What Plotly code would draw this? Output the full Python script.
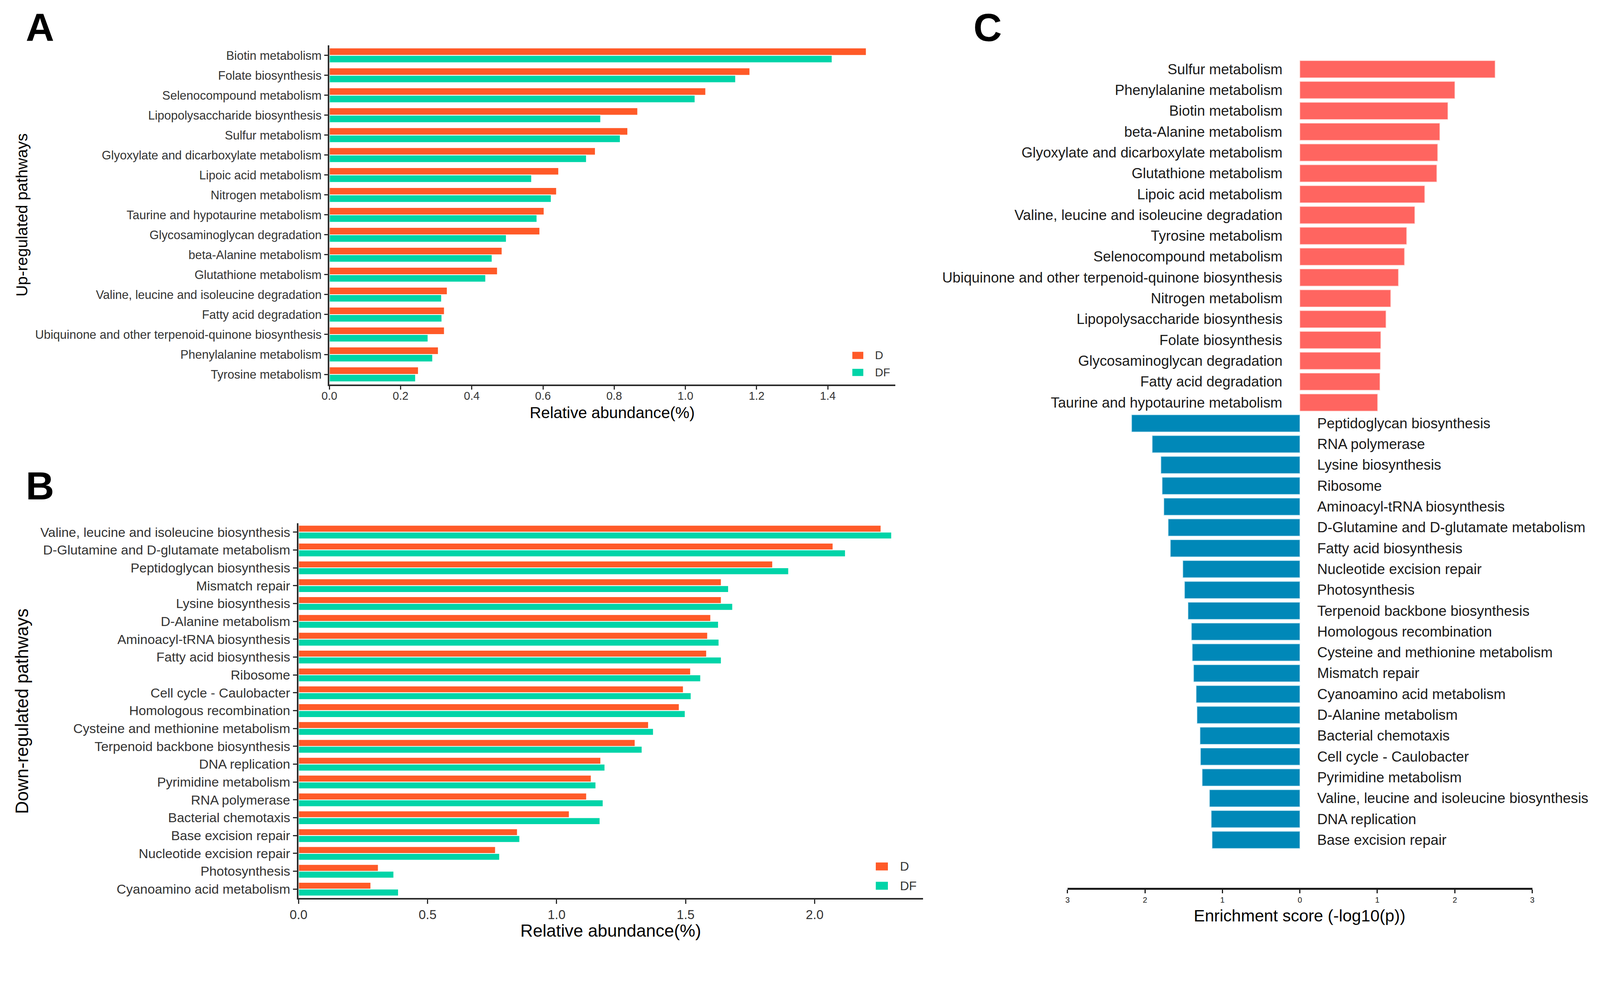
import plotly.graph_objects as go

# The photographed page is magnified by about K relative to CSS pixels and the
# page body has an 8 px margin; layout is expressed in target-picture pixels
# and converted below.
K = 1.033
W_REF, H_REF = 4233, 2513
WF = round(W_REF / K - 8)
HF = round(H_REF / K - 8)
FONT = "Liberation Sans, Arial, sans-serif"

# ---------------- Panel A data ----------------
up_pathways = ["Biotin metabolism", "Folate biosynthesis", "Selenocompound metabolism",
               "Lipopolysaccharide biosynthesis", "Sulfur metabolism",
               "Glyoxylate and dicarboxylate metabolism", "Lipoic acid metabolism",
               "Nitrogen metabolism", "Taurine and hypotaurine metabolism",
               "Glycosaminoglycan degradation", "beta-Alanine metabolism",
               "Glutathione metabolism", "Valine, leucine and isoleucine degradation",
               "Fatty acid degradation", "Ubiquinone and other terpenoid-quinone biosynthesis",
               "Phenylalanine metabolism", "Tyrosine metabolism"]
up_D = [1.508, 1.181, 1.057, 0.866, 0.838, 0.747, 0.644, 0.638, 0.603, 0.591,
        0.485, 0.472, 0.331, 0.323, 0.323, 0.306, 0.250]
up_DF = [1.412, 1.141, 1.027, 0.762, 0.817, 0.722, 0.568, 0.623, 0.583, 0.497,
         0.457, 0.439, 0.315, 0.316, 0.277, 0.290, 0.242]
a_ticks = [0.0, 0.2, 0.4, 0.6, 0.8, 1.0, 1.2, 1.4]

# ---------------- Panel B data ----------------
down_pathways = ["Valine, leucine and isoleucine biosynthesis", "D-Glutamine and D-glutamate metabolism",
                 "Peptidoglycan biosynthesis", "Mismatch repair", "Lysine biosynthesis",
                 "D-Alanine metabolism", "Aminoacyl-tRNA biosynthesis", "Fatty acid biosynthesis",
                 "Ribosome", "Cell cycle - Caulobacter", "Homologous recombination",
                 "Cysteine and methionine metabolism", "Terpenoid backbone biosynthesis",
                 "DNA replication", "Pyrimidine metabolism", "RNA polymerase",
                 "Bacterial chemotaxis", "Base excision repair", "Nucleotide excision repair",
                 "Photosynthesis", "Cyanoamino acid metabolism"]
down_D = [2.257, 2.071, 1.837, 1.638, 1.638, 1.597, 1.585, 1.581, 1.519, 1.491, 1.475,
          1.356, 1.304, 1.171, 1.134, 1.116, 1.049, 0.848, 0.763, 0.309, 0.280]
down_DF = [2.298, 2.119, 1.899, 1.666, 1.682, 1.627, 1.629, 1.638, 1.558, 1.521, 1.498,
           1.375, 1.331, 1.187, 1.152, 1.180, 1.168, 0.857, 0.779, 0.369, 0.387]
b_ticks = [0.0, 0.5, 1.0, 1.5, 2.0]

# ---------------- Panel C data ----------------
enr_up_names = ["Sulfur metabolism", "Phenylalanine metabolism", "Biotin metabolism",
                "beta-Alanine metabolism", "Glyoxylate and dicarboxylate metabolism",
                "Glutathione metabolism", "Lipoic acid metabolism",
                "Valine, leucine and isoleucine degradation", "Tyrosine metabolism",
                "Selenocompound metabolism", "Ubiquinone and other terpenoid-quinone biosynthesis",
                "Nitrogen metabolism", "Lipopolysaccharide biosynthesis", "Folate biosynthesis",
                "Glycosaminoglycan degradation", "Fatty acid degradation",
                "Taurine and hypotaurine metabolism"]
enr_up_scores = [2.52, 2.00, 1.91, 1.806, 1.778, 1.767, 1.611, 1.483, 1.378, 1.35,
                 1.272, 1.172, 1.111, 1.044, 1.039, 1.033, 1.003]
enr_down_names = ["Peptidoglycan biosynthesis", "RNA polymerase", "Lysine biosynthesis", "Ribosome",
                  "Aminoacyl-tRNA biosynthesis", "D-Glutamine and D-glutamate metabolism",
                  "Fatty acid biosynthesis", "Nucleotide excision repair", "Photosynthesis",
                  "Terpenoid backbone biosynthesis", "Homologous recombination",
                  "Cysteine and methionine metabolism", "Mismatch repair",
                  "Cyanoamino acid metabolism", "D-Alanine metabolism", "Bacterial chemotaxis",
                  "Cell cycle - Caulobacter", "Pyrimidine metabolism",
                  "Valine, leucine and isoleucine biosynthesis", "DNA replication",
                  "Base excision repair"]
enr_down_scores = [2.172, 1.906, 1.794, 1.778, 1.756, 1.70, 1.672, 1.511, 1.489, 1.444, 1.40,
                   1.389, 1.372, 1.339, 1.328, 1.289, 1.283, 1.261, 1.167, 1.144, 1.133]
c_tickvals = [-3, -2, -1, 0, 1, 2, 3]
c_ticktext = ["3", "2", "1", "0", "1", "2", "3"]

COL_D = "#FF5A28"
COL_DF = "#00D4A8"
COL_UP = "#FF6560"
COL_DOWN = "#0088B8"
AX = "#2b2b2b"
TXT = "#333333"


def S(v):
    return v / K


def fx(px):
    return (px / K - 8) / WF


def fy(py):
    return 1 - (py / K - 8) / HF


fig = go.Figure()

# Panel A bars
fig.add_trace(go.Bar(y=up_pathways, x=up_D, orientation="h", name="D",
                     marker=dict(color=COL_D, line=dict(color="white", width=S(2))),
                     width=0.37, offset=-0.37, xaxis="x", yaxis="y", showlegend=False))
fig.add_trace(go.Bar(y=up_pathways, x=up_DF, orientation="h", name="DF",
                     marker=dict(color=COL_DF, line=dict(color="white", width=S(2))),
                     width=0.37, offset=0.0, xaxis="x", yaxis="y", showlegend=False))
# Panel B bars
fig.add_trace(go.Bar(y=down_pathways, x=down_D, orientation="h", name="D",
                     marker=dict(color=COL_D, line=dict(color="white", width=S(2))),
                     width=0.38, offset=-0.38, xaxis="x2", yaxis="y2", showlegend=False))
fig.add_trace(go.Bar(y=down_pathways, x=down_DF, orientation="h", name="DF",
                     marker=dict(color=COL_DF, line=dict(color="white", width=S(2))),
                     width=0.38, offset=0.0, xaxis="x2", yaxis="y2", showlegend=False))
# Panel C bars
fig.add_trace(go.Bar(y=enr_up_names, x=enr_up_scores, orientation="h", name="Up",
                     marker=dict(color=COL_UP, line=dict(color="#ffd0cc", width=S(1.5))),
                     width=0.82, offset=-0.41, xaxis="x3", yaxis="y3", showlegend=False))
fig.add_trace(go.Bar(y=enr_down_names, x=[-v for v in enr_down_scores], orientation="h", name="Down",
                     marker=dict(color=COL_DOWN, line=dict(color="#bfe3f0", width=S(1.5))),
                     width=0.82, offset=-0.41, xaxis="x3", yaxis="y3", showlegend=False))

c_order = enr_up_names + enr_down_names

axis_common = dict(showline=True, linecolor=AX, linewidth=S(4), ticks="outside",
                   tickwidth=S(3), tickcolor=AX, showgrid=False, zeroline=False,
                   automargin=False)

layout = dict(
    width=WF, height=HF, margin=dict(l=0, r=0, t=0, b=0, pad=0), autosize=False,
    paper_bgcolor="white", plot_bgcolor="white",
    font=dict(family=FONT, color=TXT),
    xaxis=dict(domain=[fx(871), fx(2368)], anchor="y", range=[0, 1.59],
               tickvals=a_ticks, ticktext=[f"{v:.1f}" for v in a_ticks], ticklen=S(10),
               ticklabelstandoff=-9,
               tickfont=dict(size=S(30), color=TXT, family=FONT), **axis_common),
    yaxis=dict(domain=[fy(1016), fy(120)], anchor="x", categoryorder="array",
               categoryarray=up_pathways, range=[16.5, -0.5], ticklen=S(10),
               tickfont=dict(size=S(32), color=TXT, family=FONT), **axis_common),
    xaxis2=dict(domain=[fx(789.5), fx(2441)], anchor="y2", range=[0, 2.42],
                tickvals=b_ticks, ticktext=[f"{v:.1f}" for v in b_ticks], ticklen=S(11),
                tickfont=dict(size=S(34), color=TXT, family=FONT), **axis_common),
    yaxis2=dict(domain=[fy(2374), fy(1383)], anchor="x2", categoryorder="array",
                categoryarray=down_pathways, range=[20.5, -0.5], ticklen=S(11),
                tickfont=dict(size=S(35), color=TXT, family=FONT), **axis_common),
    xaxis3=dict(domain=[fx(2823), fx(4052)], anchor="y3", range=[-3, 3],
                tickvals=c_tickvals, ticktext=c_ticktext,
                showline=True, linecolor="#1a1a1a", linewidth=S(5), ticks="outside",
                ticklen=S(9), tickwidth=S(3), tickcolor="#1a1a1a", showgrid=False,
                zeroline=False, automargin=False,
                tickfont=dict(size=S(21), color="#222222", family=FONT)),
    yaxis3=dict(domain=[fy(2347), fy(150)], anchor="x3", categoryorder="array",
                categoryarray=c_order, range=[39.3, -0.6], automargin=False,
                showline=False, showticklabels=False, ticks="", showgrid=False,
                zeroline=False),
)
fig.update_layout(**layout)

ann = []
# Panel letters
for letter, x, y in [("A", 66, 72), ("B", 66, 1284), ("C", 2572, 72)]:
    ann.append(dict(text=f"<b>{letter}</b>", x=fx(x), y=fy(y), xref="paper", yref="paper",
                    xanchor="left", yanchor="middle", showarrow=False,
                    font=dict(size=S(104), color="black", family=FONT)))
# Axis titles
ann.append(dict(text="Relative abundance(%)", x=fx(1619), y=fy(1091), xref="paper", yref="paper",
                xanchor="center", yanchor="middle", showarrow=False,
                font=dict(size=S(42), color="black", family=FONT)))
ann.append(dict(text="Relative abundance(%)", x=fx(1615), y=fy(2460), xref="paper", yref="paper",
                xanchor="center", yanchor="middle", showarrow=False,
                font=dict(size=S(46), color="black", family=FONT)))
ann.append(dict(text="Enrichment score (-log10(p))", x=fx(3437), y=fy(2420), xref="paper",
                yref="paper", xanchor="center", yanchor="middle", showarrow=False,
                font=dict(size=S(44), color="black", family=FONT)))
ann.append(dict(text="Up-regulated pathways", x=fx(58), y=fy(568), xref="paper", yref="paper",
                xanchor="center", yanchor="middle", showarrow=False, textangle=-90,
                font=dict(size=S(42), color="black", family=FONT)))
ann.append(dict(text="Down-regulated pathways", x=fx(59), y=fy(1880), xref="paper", yref="paper",
                xanchor="center", yanchor="middle", showarrow=False, textangle=-90,
                font=dict(size=S(47), color="black", family=FONT)))

# Panel C labels next to zero line
for name in enr_up_names:
    ann.append(dict(text=name, x=0, y=name, xref="x3", yref="y3", xanchor="right",
                    yanchor="middle", xshift=-S(44), showarrow=False,
                    font=dict(size=S(38), color="#1a1a1a", family=FONT)))
for name in enr_down_names:
    ann.append(dict(text=name, x=0, y=name, xref="x3", yref="y3", xanchor="left",
                    yanchor="middle", xshift=S(44), showarrow=False,
                    font=dict(size=S(38), color="#1a1a1a", family=FONT)))

# Legends (A and B)
shapes = []
for (kx0, kx1, ky0, ky1, tx, fs, items) in [
    (2254, 2283, 930, 949, 2312, 30, [("D", COL_D, 0), ("DF", COL_DF, 45)]),
    (2316, 2348, 2280, 2301, 2378, 33, [("D", COL_D, 0), ("DF", COL_DF, 51)]),
]:
    for label, col, dy in items:
        shapes.append(dict(type="rect", xref="paper", yref="paper",
                           x0=fx(kx0), x1=fx(kx1), y0=fy(ky1 + dy), y1=fy(ky0 + dy),
                           fillcolor=col, line=dict(width=0)))
        ann.append(dict(text=label, x=fx(tx), y=fy((ky0 + ky1) / 2 + dy), xref="paper",
                        yref="paper", xanchor="left", yanchor="middle", showarrow=False,
                        font=dict(size=S(fs), color=TXT, family=FONT)))

fig.update_layout(annotations=ann, shapes=shapes)
fig.write_html("out.html")
